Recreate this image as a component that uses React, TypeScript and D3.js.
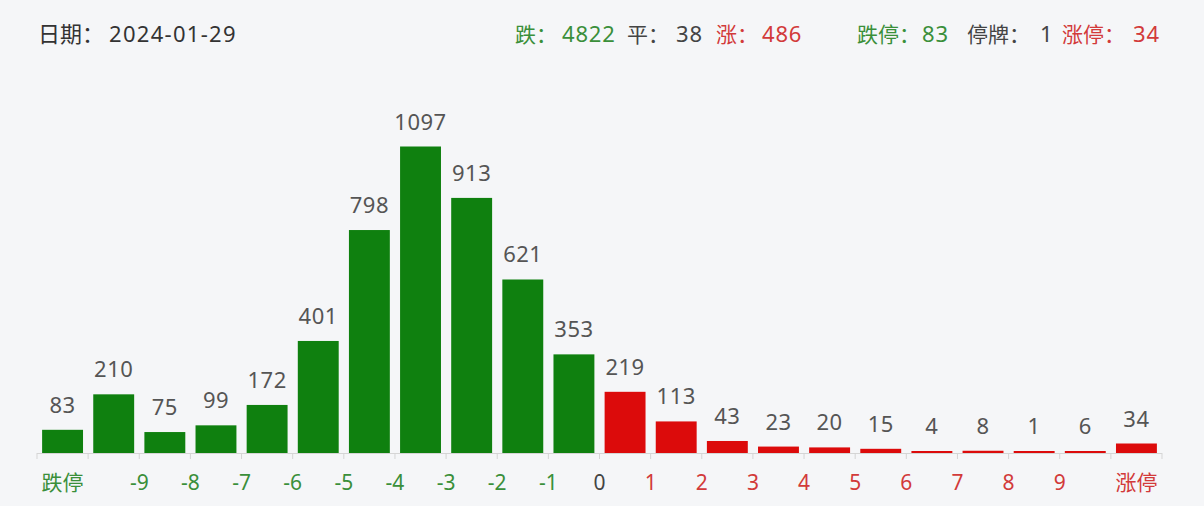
import React from 'react';
import * as d3 from 'd3';

const categories = ['跌停', '<-9', '-9~-8', '-8~-7', '-7~-6', '-6~-5', '-5~-4', '-4~-3', '-3~-2', '-2~-1', '-1~0', '0~1', '1~2', '2~3', '3~4', '4~5', '5~6', '6~7', '7~8', '8~9', '>9', '涨停'];
const values = [83, 210, 75, 99, 172, 401, 798, 1097, 913, 621, 353, 219, 113, 43, 23, 20, 15, 4, 8, 1, 6, 34];
const downCount = 11; // first 11 categories are declines
const boundaryLabels = ['-9', '-8', '-7', '-6', '-5', '-4', '-3', '-2', '-1', '0', '1', '2', '3', '4', '5', '6', '7', '8', '9'];
const dateLabel = '日期：';
const dateValue = '2024-01-29';
const summaryLabels = ['跌：', '平：', '涨：', '跌停：', '停牌：', '涨停：'];
const summaryValues = ['4822', '38', '486', '83', '1', '34'];
const summaryKinds = ['down', 'flat', 'up', 'down', 'flat', 'up'];

const W = 1204;
const H = 506;
const FONT = '"Noto Sans", "Noto Sans CJK SC", sans-serif';
const GREEN = '#0f800f';
const RED = '#dc0b0b';
const TXT_GREEN = '#3a8f3a';
const TXT_RED = '#d23a3a';
const TXT_GREY = '#444';

export default function App() {
  const x = d3.scaleBand<string>().domain(categories).range([37, 1162]).paddingInner(0.2).paddingOuter(0.1);
  const y = d3.scaleLinear().domain([0, 1097]).range([453, 146.5]);
  const step = x.step();
  const x0 = 37;
  const baseY = y(0);

  const summaryLabelX = [515, 627, 716, 857, 967, 1062];
  const summaryValueX = [562, 676, 762, 922, 1040, 1133];
  const colorOf = (k: string) => (k === 'down' ? TXT_GREEN : k === 'up' ? TXT_RED : TXT_GREY);

  return (
    <svg width={W} height={H} style={{ position: 'absolute', left: 0, top: 0, background: '#f5f6f8' }} fontFamily={FONT}>
      <rect x={0} y={0} width={W} height={H} fill="#f5f6f8" />
      <text x={38} y={42} fontSize={22} fill="#333">{dateLabel}</text>
      <text x={109} y={42} fontSize={22} fill="#333" letterSpacing={1.3}>{dateValue}</text>
      {summaryLabels.map((l, i) => (
        <g key={i} fill={colorOf(summaryKinds[i])}>
          <text x={summaryLabelX[i]} y={42} fontSize={21}>{l}</text>
          <text x={summaryValueX[i]} y={42} fontSize={22} letterSpacing={0.8}>{summaryValues[i]}</text>
        </g>
      ))}
      {/* bars */}
      {values.map((v, i) => {
        const h = Math.max(2, baseY - y(v));
        return (
          <rect key={i} x={x(categories[i])} y={baseY - h} width={x.bandwidth()} height={h} fill={i < downCount ? GREEN : RED} />
        );
      })}
      {/* value labels */}
      {values.map((v, i) => {
        const h = Math.max(2, baseY - y(v));
        return (
          <text key={'l' + i} x={(x(categories[i]) as number) + x.bandwidth() / 2} y={baseY - h - 17} fontSize={22} fill="#555" textAnchor="middle" letterSpacing={0.5}>
            {v}
          </text>
        );
      })}
      {/* axis */}
      <line x1={x0} x2={1162} y1={baseY + 0.5} y2={baseY + 0.5} stroke="#d5d5d5" />
      {d3.range(categories.length + 1).map((i) => (
        <line key={'t' + i} x1={x0 + i * step} x2={x0 + i * step} y1={baseY} y2={baseY + 6} stroke="#d5d5d5" />
      ))}
      <text x={(x(categories[0]) as number) + x.bandwidth() / 2} y={490} fontSize={21} fill={TXT_GREEN} textAnchor="middle">{categories[0]}</text>
      <text x={(x(categories[categories.length - 1]) as number) + x.bandwidth() / 2} y={490} fontSize={21} fill={TXT_RED} textAnchor="middle">{categories[categories.length - 1]}</text>
      {boundaryLabels.map((l, i) => {
        const n = +l;
        const fill = n < 0 ? TXT_GREEN : n > 0 ? TXT_RED : TXT_GREY;
        return (
          <text key={'b' + i} x={x0 + (i + 2) * step} y={490} fontSize={21} fill={fill} textAnchor="middle">{l}</text>
        );
      })}
    </svg>
  );
}
